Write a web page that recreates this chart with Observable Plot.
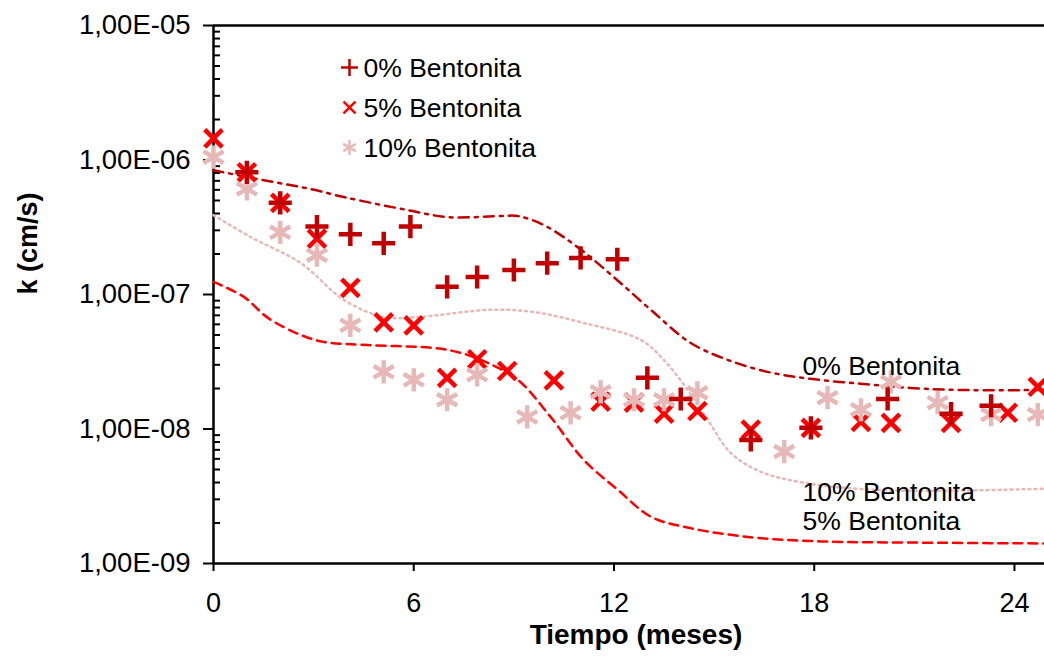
<!DOCTYPE html>
<html><head><meta charset="utf-8">
<script src="https://cdn.jsdelivr.net/npm/d3@7"></script>
<script src="https://cdn.jsdelivr.net/npm/@observablehq/plot@0.6"></script>
<style>
body{margin:0;background:#fff;}
#chart{width:1044px;height:658px;}
#chart svg{font-family:"Liberation Sans",Arial,sans-serif;}
</style></head><body><div id="chart"></div>
<script>
// Measured points
const t0 = [1, 2, 3.1, 4.1, 5.1, 5.9, 7, 7.9, 9, 10, 11, 12.1, 13, 14, 16.1, 17.9, 20.2, 22.1, 23.3];
const k0 = [8.1e-7, 4.8e-7, 3.2e-7, 2.8e-7, 2.4e-7, 3.2e-7, 1.14e-7, 1.35e-7, 1.52e-7, 1.71e-7, 1.87e-7, 1.83e-7, 2.4e-8, 1.67e-8, 8.3e-9, 1.02e-8, 1.67e-8, 1.3e-8, 1.49e-8];
const t5 = [0, 1, 2, 3.1, 4.1, 5.1, 6, 7, 7.9, 8.8, 10.2, 11.6, 12.6, 13.5, 14.5, 16.1, 17.9, 19.4, 20.3, 22.1, 23.8, 24.7];
const k5 = [1.45e-6, 8.1e-7, 4.8e-7, 2.6e-7, 1.12e-7, 6.2e-8, 5.9e-8, 2.4e-8, 3.3e-8, 2.7e-8, 2.3e-8, 1.6e-8, 1.57e-8, 1.3e-8, 1.36e-8, 9.9e-9, 1.02e-8, 1.13e-8, 1.11e-8, 1.11e-8, 1.32e-8, 2.06e-8];
const t10 = [0, 1, 2, 3.1, 4.1, 5.1, 6, 7, 7.9, 9.4, 10.7, 11.6, 12.6, 13.5, 14.5, 17.1, 18.4, 19.4, 20.3, 21.7, 23.3, 24.7];
const k10 = [1.05e-6, 6.1e-7, 2.9e-7, 1.96e-7, 5.9e-8, 2.66e-8, 2.32e-8, 1.65e-8, 2.53e-8, 1.23e-8, 1.32e-8, 1.89e-8, 1.65e-8, 1.65e-8, 1.86e-8, 6.8e-9, 1.71e-8, 1.39e-8, 2.24e-8, 1.57e-8, 1.28e-8, 1.28e-8];

// Trend curves
const tt0 = [0, 1.03, 2.92, 3.91, 5.82, 7.02, 8.61, 9.12, 9.9, 10.91, 11.99, 13.1, 14.3, 15.4, 16.6, 17.89, 19.39, 20.88, 22.38, 24.9];
const kt0 = [8.4e-7, 7.45e-7, 6.07e-7, 5.3e-7, 4.24e-7, 3.76e-7, 3.83e-7, 3.83e-7, 3.28e-7, 2.25e-7, 1.35e-7, 7.7e-8, 4.36e-8, 3.27e-8, 2.66e-8, 2.36e-8, 2.17e-8, 2.02e-8, 1.95e-8, 1.95e-8];
const tt5 = [0, 0.91, 1.63, 2.62, 3.31, 4.63, 6.6, 7.41, 8.22, 9.12, 10.1, 11.09, 12.11, 13.1, 14.2, 16.18, 18.19, 21.18, 24.9];
const kt5 = [1.24e-7, 9.6e-8, 6.7e-8, 5.0e-8, 4.44e-8, 4.21e-8, 4.0e-8, 3.68e-8, 3.1e-8, 2.32e-8, 1.23e-8, 5.9e-9, 3.54e-9, 2.23e-9, 1.85e-9, 1.56e-9, 1.46e-9, 1.43e-9, 1.41e-9];
const tt10 = [0, 1.12, 2.62, 3.91, 5.1, 6.12, 8.31, 9.6, 11.09, 12.8, 13.49, 14.21, 14.81, 15.49, 16.39, 17.68, 19.69, 22.17, 24.9];
const kt10 = [3.89e-7, 2.67e-7, 1.71e-7, 9.1e-8, 6.8e-8, 6.8e-8, 7.7e-8, 7.4e-8, 6.15e-8, 4.6e-8, 3.27e-8, 1.95e-8, 1.17e-8, 6.67e-9, 4.82e-9, 3.99e-9, 3.54e-9, 3.48e-9, 3.6e-9];

const seriesNames = ["0% Bentonita", "5% Bentonita", "10% Bentonita"];
const seriesColors = ["#C00000", "#FF0000", "#E6B9B8"];
const seriesSymbols = ["plus", "times", "asterisk"];

const xTicks = [0, 6, 12, 18, 24];
const yTicks = [1e-9, 1e-8, 1e-7, 1e-6, 1e-5];
const yTickLabels = ["1,00E-09", "1,00E-08", "1,00E-07", "1,00E-06", "1,00E-05"];
const yMinor = [];
for (let d = -9; d < -5; d++) for (let m = 2; m <= 9; m++) yMinor.push(m * Math.pow(10, d));

// Curve label annotations (data units)
const curveLabels = [
  {text: "0% Bentonita", t: 17.65, k: 2.9e-8},
  {text: "10% Bentonita", t: 17.65, k: 3.37e-9},
  {text: "5% Bentonita", t: 17.65, k: 2.05e-9}
];

const pts = (t, k) => t.map((d, i) => ({t: d, k: k[i]}));
const P0 = pts(t0, k0), P5 = pts(t5, k5), P10 = pts(t10, k10);
const L0 = pts(tt0, kt0), L5 = pts(tt5, kt5), L10 = pts(tt10, kt10);

const yLabelOf = d => yTickLabels[yTicks.findIndex(v => Math.abs(Math.log10(v) - Math.log10(d)) < 1e-6)] ?? "";

const legendR = [5.5, 5.5, 7];
const legendMarks = seriesNames.flatMap((name, i) => [
  Plot.dot([name], {frameAnchor: "top-left", dx: 136, dy: 42 + i * 40, symbol: seriesSymbols[i], stroke: seriesColors[i], r: legendR[i], strokeWidth: 2.5}),
  Plot.text([name], {frameAnchor: "top-left", lineAnchor: "middle", dx: 150, dy: 43 + i * 40, text: d => d, textAnchor: "start", fontSize: 26.5, fill: "#000"})
]);

const chart = Plot.plot({
  width: 1044, height: 658,
  marginLeft: 213, marginRight: 0, marginTop: 25, marginBottom: 95,
  x: {domain: [0, 24.9]},
  y: {type: "log", domain: [1e-9, 1e-5]},
  style: {fontFamily: "'Liberation Sans', Arial, sans-serif", background: "#fff"},
  marks: [
    Plot.axisX({ticks: xTicks, tickSize: 8, tickPadding: 21, fontSize: 27, label: null, strokeWidth: 2}),
    Plot.axisY({ticks: yTicks, tickSize: 10, tickPadding: 13, fontSize: 27.5, tickFormat: yLabelOf, label: null, strokeWidth: 2}),
    Plot.axisY({ticks: yMinor, tickSize: 7, dx: 7, text: null, label: null, strokeWidth: 2}),
    Plot.ruleX([0], {stroke: "#000", strokeWidth: 2.5}),
    Plot.ruleY([1e-9, 1e-5], {stroke: "#000", strokeWidth: 2.5}),
    Plot.line(L0, {x: "t", y: "k", stroke: seriesColors[0], strokeWidth: 2.5, strokeDasharray: "10,6,3,6", curve: "catmull-rom"}),
    Plot.line(L5, {x: "t", y: "k", stroke: seriesColors[1], strokeWidth: 2.5, strokeDasharray: "9,6", curve: "catmull-rom"}),
    Plot.line(L10, {x: "t", y: "k", stroke: seriesColors[2], strokeWidth: 2.5, strokeDasharray: "2,4", curve: "catmull-rom"}),
    Plot.dot(P5, {x: "t", y: "k", symbol: "times", stroke: seriesColors[1], r: 8, strokeWidth: 4.5}),
    Plot.dot(P10, {x: "t", y: "k", symbol: "asterisk", stroke: seriesColors[2], r: 11, strokeWidth: 4.5}),
    Plot.dot(P0, {x: "t", y: "k", symbol: "plus", stroke: seriesColors[0], r: 7.5, strokeWidth: 4.5}),
    Plot.text(curveLabels, {x: "t", y: "k", text: "text", textAnchor: "start", fontSize: 26.5, fill: "#000"}),
    ...legendMarks,
    Plot.text(["Tiempo (meses)"], {frameAnchor: "bottom", lineAnchor: "middle", dx: 7, dy: 72, text: d => d, fontSize: 28, fontWeight: "bold", fill: "#000"}),
    Plot.text(["k (cm/s)"], {frameAnchor: "left", lineAnchor: "middle", dx: -185, text: d => d, rotate: -90, fontSize: 27, fontWeight: "bold", fill: "#000"})
  ]
});
document.getElementById("chart").append(chart);
</script>
</body></html>
